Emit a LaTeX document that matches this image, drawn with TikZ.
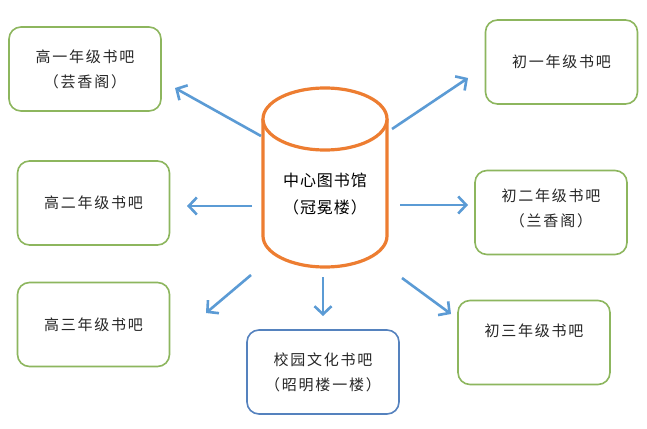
\documentclass[tikz,border=0pt]{standalone}
\usepackage{fontspec}
\usetikzlibrary{arrows.meta}
\newfontfamily\cjkbox[LetterSpace=12]{Noto Sans CJK SC}
\newfontfamily\cjkcyl[LetterSpace=6]{Noto Sans CJK SC}
\definecolor{boxgreen}{HTML}{8DB65E}
\definecolor{boxblue}{HTML}{5582BE}
\definecolor{arrowblue}{HTML}{5B9BD5}
\definecolor{cylorange}{HTML}{ED7D31}
\tikzset{
  bar/.style={draw=boxgreen, line width=1.6pt, rounded corners=12pt, fill=white,
    minimum width=152pt, minimum height=84pt, align=center, inner sep=0pt,
    font=\cjkbox\fontsize{15}{25}\selectfont, text=black!85},
  barblue/.style={bar, draw=boxblue},
  conn/.style={draw=arrowblue, line width=2.6pt, -{Straight Barb[length=8pt,width=17pt,line width=2.6pt]}},
  cyltext/.style={align=center, font=\cjkcyl\fontsize{16}{27}\selectfont, text=black}
}
\begin{document}
\begin{tikzpicture}[x=1pt,y=-1pt]
\useasboundingbox[fill=white] (0,0) rectangle (647,428);
% cylinder
\begin{scope}[draw=cylorange, line width=3.2pt]
  \draw (263,119) -- (263,236) arc[start angle=180, end angle=360, x radius=62, y radius=-31] -- (387,119);
  \draw[fill=white] (325,119) ellipse[x radius=62, y radius=31];
\end{scope}
\node[cyltext] (lib) at (325,194.5) {中心图书馆\\（冠冕楼）};
% boxes
\node[bar] (g1) at (85,69) {高一年级书吧\\（芸香阁）};
\node[bar] (g2) at (93.5,203) {高二年级书吧};
\node[bar] (g3) at (93.5,324.5) {高三年级书吧};
\node[barblue] (xy) at (323,372) {校园文化书吧\\（昭明楼一楼）};
\node[bar] (c3) at (534,342.5) {初三年级书吧\\\mbox{}};
\node[bar, text depth=10pt] (c2) at (551,212.5) {初二年级书吧\\（兰香阁）};
\node[bar] (c1) at (561.5,62) {初一年级书吧};
% arrow end points
\coordinate (s1) at (261,136); \coordinate (e1) at (175,88);
\coordinate (s2) at (252,206); \coordinate (e2) at (187,206);
\coordinate (s3) at (251,275); \coordinate (e3) at (206,313);
\coordinate (s4) at (323,277); \coordinate (e4) at (323,316);
\coordinate (s5) at (402,278); \coordinate (e5) at (451,314);
\coordinate (s6) at (400,205); \coordinate (e6) at (468,205);
\coordinate (s7) at (392,129); \coordinate (e7) at (468,78);
\draw[conn] (s1) -- (e1);
\draw[conn] (s2) -- (e2);
\draw[conn] (s3) -- (e3);
\draw[conn] (s4) -- (e4);
\draw[conn] (s5) -- (e5);
\draw[conn] (s6) -- (e6);
\draw[conn] (s7) -- (e7);
\end{tikzpicture}
\end{document}
